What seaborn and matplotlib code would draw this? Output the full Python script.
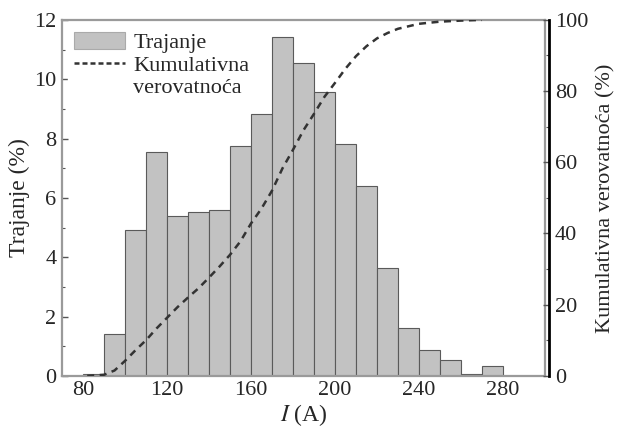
import numpy as np
import pandas as pd
import matplotlib
matplotlib.use("Agg")
import matplotlib.pyplot as plt
import seaborn as sns
from matplotlib.patches import Patch
from matplotlib.lines import Line2D
from matplotlib.ticker import MultipleLocator

# ---- data ----
bin_left = [80, 90, 100, 110, 120, 130, 140, 150, 160, 170,
            180, 190, 200, 210, 220, 230, 240, 250, 260, 270]
trajanje = [0.05, 1.42, 4.92, 7.55, 5.39, 5.53, 5.6, 7.75, 8.83, 11.43,
            10.55, 9.57, 7.82, 6.4, 3.64, 1.62, 0.88, 0.54, 0.07, 0.34]
cdf_I = [82, 90, 95, 100, 105, 110, 115, 120, 125, 130, 135, 140, 145, 150,
         155, 160, 165, 170, 175, 180, 185, 190, 195, 200, 205, 210, 215,
         220, 225, 230, 240, 250, 260, 270]
cdf_val = [0, 0.3, 1.5, 4.2, 7.2, 10, 13.3, 16.3, 19.3, 22, 24.6, 27.6, 30.7,
           34, 37.8, 42.8, 47, 52, 58.3, 63.5, 69, 73.6, 78.4, 82.3, 86.3,
           89.8, 92.6, 94.8, 96.3, 97.5, 98.9, 99.5, 99.8, 100]
x_ticks = [80, 120, 160, 200, 240, 280]
y_ticks = [0, 2, 4, 6, 8, 10, 12]
y2_ticks = [0, 20, 40, 60, 80, 100]

sns.set_style("white")
plt.rcParams['font.family'] = ['Liberation Serif', 'DejaVu Serif']
plt.rcParams['mathtext.fontset'] = 'stix'

fig = plt.figure(figsize=(6.2, 4.32), dpi=100)
ax = fig.add_axes([0.100, 0.130, 0.779, 0.824])

width = 10
centers = [b + width / 2 for b in bin_left]
edges = bin_left + [bin_left[-1] + width]
df = pd.DataFrame({"I": centers, "w": trajanje})
sns.histplot(data=df, x="I", weights="w", bins=edges, ax=ax,
             color="#c2c2c2", edgecolor="#5a5a5a", linewidth=0.8, alpha=1.0)

ax.set_xlim(70, 300)
ax.set_ylim(0, 12)
ax.set_xticks(x_ticks)
ax.set_yticks(y_ticks)
ax.xaxis.set_minor_locator(MultipleLocator(10))
ax.yaxis.set_minor_locator(MultipleLocator(1))
ax.tick_params(axis='both', which='major', direction='in', length=4,
               width=1, color='#555555', labelsize=16, pad=4)
ax.tick_params(axis='both', which='minor', direction='in', length=2.5,
               width=0.8, color='#555555')
ax.tick_params(axis='y', right=False)
for s in ax.spines.values():
    s.set_color('#9a9a9a')
    s.set_linewidth(1.6)
ax.set_xlabel(r"$I$ (A)", fontsize=17, labelpad=1)
ax.set_ylabel("Trajanje (%)", fontsize=17, labelpad=3)

ax2 = ax.twinx()
sns.lineplot(x=cdf_I, y=cdf_val, ax=ax2, color="#333333", linewidth=1.8,
             linestyle=(0, (2.8, 2.2)))
ax2.set_ylim(0, 100)
ax2.set_yticks(y2_ticks)
ax2.yaxis.set_minor_locator(MultipleLocator(10))
ax2.tick_params(axis='y', which='major', direction='in', length=4, width=1,
                color='#555555', labelsize=16, pad=4)
ax2.tick_params(axis='y', which='minor', direction='in', length=2.5,
                width=0.8, color='#555555')
for name, s in ax2.spines.items():
    s.set_visible(name == 'right')
ax2.spines['right'].set_color('black')
ax2.spines['right'].set_linewidth(2.0)
ax2.spines['right'].set_position(('outward', 3))
ax2.set_ylabel("Kumulativna verovatnoća (%)", fontsize=16, labelpad=6)

handles = [Patch(facecolor="#c2c2c2", edgecolor="#aaaaaa", linewidth=0.8),
           Line2D([0], [0], color="#333333", linewidth=1.8,
                  linestyle=(0, (2.0, 1.2))),
           Line2D([0], [0], color="none")]
leg = ax.legend(handles, ["Trajanje", "Kumulativna", "verovatnoća"],
                loc="upper left", fontsize=16, frameon=True, fancybox=False,
                borderaxespad=0.25, handlelength=2.3, handleheight=0.8,
                handletextpad=0.35, labelspacing=0.05, borderpad=0.3)
leg.get_frame().set_facecolor("white")
leg.get_frame().set_edgecolor("white")
leg.get_frame().set_alpha(1.0)
leg.set_zorder(10)

fig.savefig("out.png", dpi=100)
